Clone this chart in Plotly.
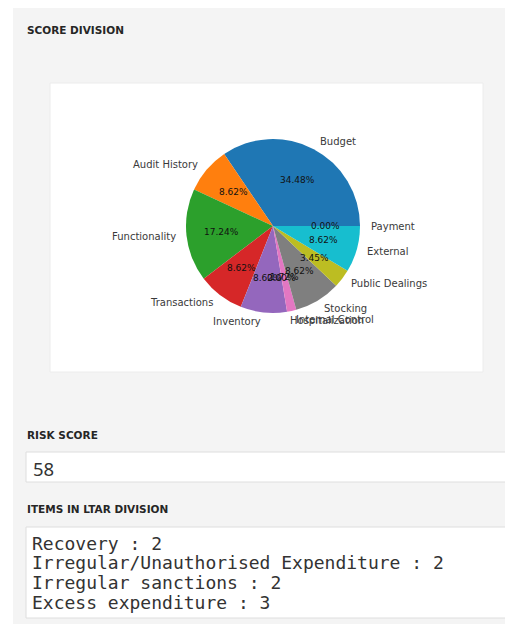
import math
import plotly.graph_objects as go

# ---------------- data ----------------
slice_labels = ["Budget", "Audit History", "Functionality", "Transactions", "Inventory",
                "Hospitalization", "Internal Control", "Stocking", "Public Dealings",
                "External", "Payment"]
slice_values = [10, 2.5, 5, 2.5, 2.5, 0, 0.5, 2.5, 1, 2.5, 0]
slice_colors = ["#1f77b4", "#ff7f0e", "#2ca02c", "#d62728", "#9467bd", "#8c564b",
                "#e377c2", "#7f7f7f", "#bcbd22", "#17becf", "#1f77b4"]
risk_score = "58"
ltar_items = ["Recovery", "Irregular/Unauthorised Expenditure", "Irregular sanctions",
              "Excess expenditure"]
ltar_counts = [2, 2, 2, 3]

# ---------------- layout constants (page pixels) ----------------
PAGE_W, PAGE_H = 513, 624
OFF = 8  # browser body margin
W, H = PAGE_W - OFF, PAGE_H - OFF
CX, CY, R = 273, 226, 87


def px(x):
    return (x - OFF) / W


def py(y):
    return 1 - (y - OFF) / H


total = sum(slice_values)
# plotly starts a counterclockwise pie with the first slice ending at `rotation`
rotation = 90 - 360 * slice_values[0] / total

fig = go.Figure()
fig.add_trace(go.Pie(
    labels=slice_labels, values=slice_values, sort=False,
    direction="counterclockwise", rotation=rotation,
    marker=dict(colors=slice_colors, line=dict(width=0)),
    textinfo="none", hoverinfo="label+percent", showlegend=False,
    domain=dict(x=[px(CX - R), px(CX + R)], y=[py(CY + R), py(CY - R)]),
))

shapes = []
shapes.append(dict(type="rect", xref="paper", yref="paper", x0=px(13), x1=px(520),
                   y0=py(640), y1=py(8), fillcolor="#f4f4f4", line=dict(width=0), layer="below"))
shapes.append(dict(type="rect", xref="paper", yref="paper", x0=px(50), x1=px(483),
                   y0=py(372), y1=py(83), fillcolor="#ffffff", line=dict(color="#ececec", width=1),
                   layer="below"))
shapes.append(dict(type="rect", xref="paper", yref="paper", x0=px(26), x1=px(507),
                   y0=py(482), y1=py(452), fillcolor="#ffffff", line=dict(color="#dedede", width=1),
                   layer="below"))
shapes.append(dict(type="rect", xref="paper", yref="paper", x0=px(26), x1=px(507),
                   y0=py(618), y1=py(527), fillcolor="#ffffff", line=dict(color="#dedede", width=1),
                   layer="below"))

annotations = []
head_font = dict(family="DejaVu Sans", size=10.5, color="#262626", weight="bold")
for text, y in [("SCORE DIVISION", 30), ("RISK SCORE", 435), ("ITEMS IN LTAR DIVISION", 509)]:
    annotations.append(dict(text=text, x=px(25), y=py(y), xref="paper", yref="paper",
                            xanchor="left", yanchor="middle", showarrow=False, font=head_font))

annotations.append(dict(text=risk_score, x=px(31), y=py(468), xref="paper", yref="paper",
                        xanchor="left", yanchor="middle", showarrow=False,
                        font=dict(family="Noto Sans", size=18.5, color="#333333")))

for i, (item, cnt) in enumerate(zip(ltar_items, ltar_counts)):
    annotations.append(dict(text=f"{item} : {cnt}", x=px(30), y=py(543 + i * 19.8),
                            xref="paper", yref="paper", xanchor="left", yanchor="middle",
                            showarrow=False,
                            font=dict(family="DejaVu Sans Mono", size=18, color="#333333")))

# pie labels and percentages, matplotlib style
start = 0.0
for lab, val in zip(slice_labels, slice_values):
    frac = val / total
    mid = (start + frac / 2) * 2 * math.pi
    start += frac
    cx, cy = math.cos(mid), math.sin(mid)
    lx, ly = CX + 1.1 * R * cx, CY - 1.1 * R * cy
    annotations.append(dict(text=lab, x=px(lx), y=py(ly), xref="paper", yref="paper",
                            xanchor="left" if cx > 0 else "right", yanchor="middle",
                            showarrow=False,
                            font=dict(family="DejaVu Sans", size=10, color="#3a3a3a")))
    tx, ty = CX + 0.6 * R * cx, CY - 0.6 * R * cy
    annotations.append(dict(text=f"{frac * 100:.2f}%", x=px(tx), y=py(ty), xref="paper",
                            yref="paper", xanchor="center", yanchor="middle", showarrow=False,
                            font=dict(family="DejaVu Sans", size=9, color="#111111")))

fig.update_layout(width=W, height=H, margin=dict(l=0, r=0, t=0, b=0),
                  paper_bgcolor="#ffffff", shapes=shapes, annotations=annotations)

fig.write_html("out.html")
